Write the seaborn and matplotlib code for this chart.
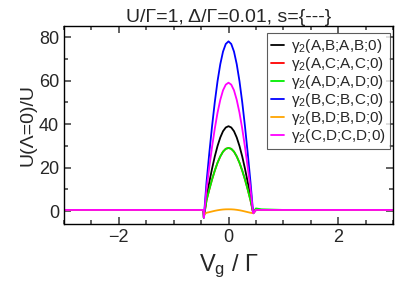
import numpy as np
import pandas as pd
import matplotlib
matplotlib.use("Agg")
import matplotlib.pyplot as plt
import seaborn as sns

sns.set_style("ticks")
plt.rcParams['font.family'] = ['Liberation Sans', 'DejaVu Sans']
plt.rcParams['mathtext.fontset'] = 'custom'
plt.rcParams['mathtext.rm'] = 'Liberation Sans'
plt.rcParams['mathtext.it'] = 'Liberation Sans'

# gate voltage grid (V_g / Gamma)
vg = [-3.0, -2.0, -1.0, -0.5, -0.455,
      -0.45, -0.4, -0.35, -0.3, -0.25, -0.2, -0.15, -0.1, -0.05, 0.0,
      0.05, 0.1, 0.15, 0.2, 0.25, 0.3, 0.35, 0.4, 0.45,
      0.5, 0.6, 1.0, 2.0, 3.0]

ab_ab = [0.5, 0.5, 0.5, 0.5, 0.5,
         -3.0, 6.8, 13.3, 19.5, 25.1, 29.9, 33.8, 36.7, 38.4, 39.0,
         38.4, 36.7, 33.8, 29.9, 25.1, 19.5, 13.3, 6.8, -1.0,
         0.5, 0.5, 0.5, 0.5, 0.5]
ac_ac = [0.5, 0.5, 0.5, 0.5, 0.5,
         -3.0, 5.0, 9.9, 14.5, 18.6, 22.2, 25.1, 27.3, 28.6, 29.0,
         28.6, 27.3, 25.1, 22.2, 18.6, 14.5, 9.9, 5.0, -1.0,
         0.5, 0.5, 0.5, 0.5, 0.5]
ad_ad = [0.5, 0.5, 0.5, 0.5, 0.5,
         -3.0, 5.0, 9.9, 14.5, 18.6, 22.2, 25.1, 27.3, 28.6, 29.0,
         28.6, 27.3, 25.1, 22.2, 18.6, 14.5, 9.9, 5.0, -0.5,
         1.2, 0.8, 0.5, 0.5, 0.5]
bc_bc = [0.5, 0.5, 0.5, 0.5, 0.5,
         -3.0, 13.5, 26.7, 39.0, 50.1, 59.7, 67.5, 73.3, 76.8, 78.0,
         76.8, 73.3, 67.5, 59.7, 50.1, 39.0, 26.7, 13.5, -1.0,
         0.5, 0.5, 0.5, 0.5, 0.5]
bd_bd = [0.5, 0.5, 0.5, 0.5, 0.5,
         -1.5, -0.8, -0.5, -0.2, 0.1, 0.35, 0.55, 0.7, 0.78, 0.8,
         0.78, 0.7, 0.55, 0.35, 0.1, -0.2, -0.5, -0.8, -1.0,
         0.5, 0.5, 0.5, 0.5, 0.5]
cd_cd = [0.5, 0.5, 0.5, 0.5, 0.5,
         -3.0, 10.3, 20.2, 29.5, 37.9, 45.2, 51.1, 55.5, 58.1, 59.0,
         58.1, 55.5, 51.1, 45.2, 37.9, 29.5, 20.2, 10.3, -1.0,
         0.5, 0.5, 0.5, 0.5, 0.5]

labels = ["A,B;A,B;0", "A,C;A,C;0", "A,D;A,D;0",
          "B,C;B,C;0", "B,D;B,D;0", "C,D;C,D;0"]
colors = ["black", "red", "#00ee00", "blue", "orange", "magenta"]
series = [ab_ab, ac_ac, ad_ad, bc_bc, bd_bd, cd_cd]

names = [r"$\gamma_2$(" + lab + ")" for lab in labels]
rows = []
for name, ys in zip(names, series):
    for x, y in zip(vg, ys):
        rows.append({"Vg": x, "val": y, "series": name})
df = pd.DataFrame(rows)

fig = plt.figure(figsize=(3.95, 2.84), dpi=100)
ax = fig.add_axes([0.162, 0.211, 0.833, 0.697])
sns.lineplot(data=df, x="Vg", y="val", hue="series", hue_order=names,
             palette=colors, linewidth=1.3, ax=ax, sort=False,
             estimator=None)

ax.set_xlim(-3, 3)
ax.set_ylim(-6, 85)
ax.set_xticks([-2, 0, 2])
ax.set_xticks(np.arange(-3, 3.01, 0.5), minor=True)
ax.set_yticks([0, 20, 40, 60, 80])
ax.set_yticks(np.arange(0, 81, 10), minor=True)
ax.tick_params(which="both", direction="in", top=True, right=True,
               color="#555555", width=1.3, labelsize=13)
ax.tick_params(which="major", length=5)
ax.tick_params(which="minor", length=3.2)
for s in ax.spines.values():
    s.set_color("black")
    s.set_linewidth(1.0)

ax.set_title("U/Γ=1, Δ/Γ=0.01, s={---}", fontsize=14, pad=3)
ax.set_ylabel("U(Λ=0)/U", fontsize=14, labelpad=2)
ax.set_xlabel("V$_g$ / Γ", fontsize=17, labelpad=5)

leg = ax.legend(loc="upper right", bbox_to_anchor=(0.99, 0.965),
                borderaxespad=0, fontsize=11, frameon=True,
                fancybox=False, edgecolor="#333333", handlelength=0.85,
                handletextpad=0.5, labelspacing=0.0, borderpad=0.25)
leg.get_frame().set_linewidth(0.8)

fig.savefig("out.png", dpi=100)
